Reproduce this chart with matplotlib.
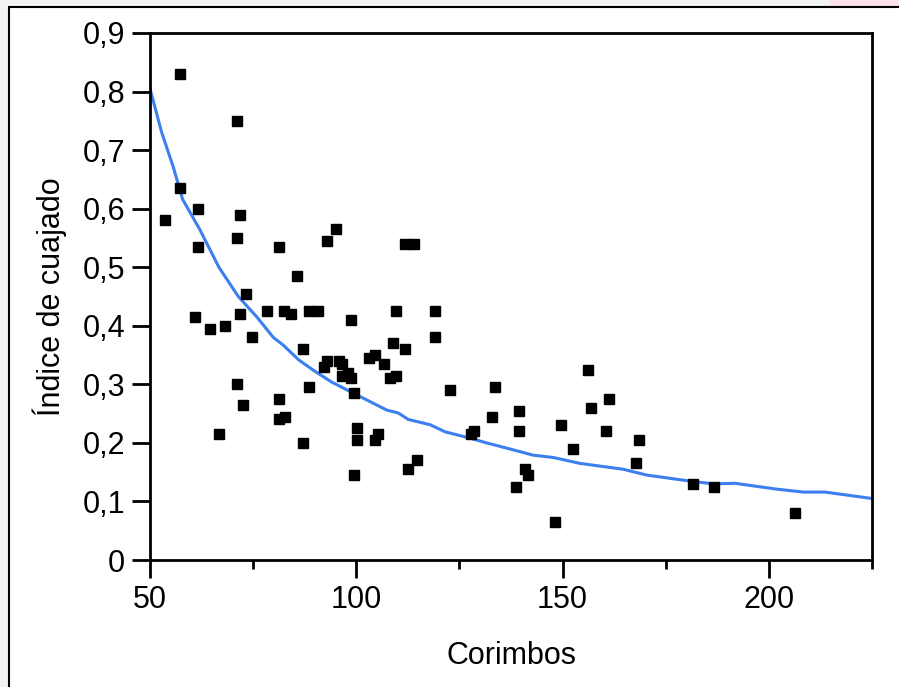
import matplotlib
matplotlib.use("Agg")
import matplotlib.pyplot as plt
from matplotlib.patches import Rectangle
from matplotlib.ticker import MultipleLocator, FuncFormatter

plt.rcParams['font.family'] = ['Liberation Sans', 'DejaVu Sans']

# observed points: number of corymbs vs fruit set index
corimbos = [57.3, 71.0, 57.3, 61.6, 53.6, 71.8, 71.0, 61.6, 95.1, 92.9, 81.3, 111.8, 114.0, 85.6, 73.2,
            60.9, 64.5, 68.2, 71.8, 74.7, 78.3, 82.6, 84.2, 88.5, 90.7, 98.7, 109.6, 119.1, 119.1, 87.0,
            108.9, 111.8, 103.0, 104.5, 106.7, 92.9, 92.1, 95.8, 96.5, 96.5, 98.0, 98.7, 108.2, 109.6, 99.5,
            88.5, 71.0, 81.3, 72.5, 122.7, 81.3, 82.7, 100.2, 100.2, 104.5, 105.3, 66.7, 87.0, 99.5, 112.5,
            114.7, 127.9, 128.5, 133.6, 132.9, 139.5, 139.5, 140.9, 141.6, 138.7, 148.2, 149.6, 152.5, 156.2,
            156.9, 161.3, 160.5, 168.5, 167.8, 181.6, 186.7, 206.4]
cuajado = [0.830, 0.750, 0.635, 0.600, 0.580, 0.590, 0.550, 0.535, 0.565, 0.545, 0.535, 0.540, 0.540, 0.485, 0.455,
           0.415, 0.395, 0.400, 0.420, 0.380, 0.425, 0.425, 0.420, 0.425, 0.425, 0.410, 0.425, 0.425, 0.380, 0.360,
           0.370, 0.360, 0.345, 0.350, 0.335, 0.340, 0.330, 0.340, 0.335, 0.315, 0.320, 0.310, 0.310, 0.315, 0.285,
           0.295, 0.300, 0.275, 0.265, 0.290, 0.240, 0.245, 0.225, 0.205, 0.205, 0.215, 0.215, 0.200, 0.145, 0.155,
           0.170, 0.215, 0.220, 0.295, 0.245, 0.255, 0.220, 0.155, 0.145, 0.125, 0.065, 0.230, 0.190, 0.325,
           0.260, 0.275, 0.220, 0.205, 0.165, 0.130, 0.125, 0.080]

# fitted curve
ajuste_x = [50.0, 52.8, 55.6, 57.9, 62.1, 66.7, 71.4, 75.9, 79.9, 82.3, 86.0, 89.6, 94.0, 100.1, 107.4,
            110.2, 112.6, 117.9, 121.5, 127.6, 131.6, 138.1, 142.9, 147.8, 154.2, 164.7, 170.4, 181.7,
            186.6, 191.8, 201.9, 208.4, 213.6, 225.0]
ajuste_y = [0.805, 0.731, 0.672, 0.616, 0.564, 0.500, 0.450, 0.415, 0.380, 0.367, 0.342, 0.324, 0.304, 0.282,
            0.256, 0.251, 0.240, 0.231, 0.219, 0.208, 0.200, 0.188, 0.179, 0.175, 0.165, 0.155, 0.145, 0.134,
            0.130, 0.131, 0.121, 0.116, 0.116, 0.105]

fig = plt.figure(figsize=(8.99, 6.87), dpi=100, facecolor='#f3f3f3')
W, H = 899.0, 687.0

# slide frame around the chart
fig.patches.append(Rectangle((9 / W, -0.05), 1.2, 1 - 7 / H + 0.05, transform=fig.transFigure,
                             facecolor='white', edgecolor='black', lw=1.5, zorder=-1))
fig.patches.append(Rectangle((830 / W, 1 - 6 / H), 0.2, 6 / H, transform=fig.transFigure,
                             facecolor='#f9e3e8', edgecolor='none', zorder=-2))

ax = fig.add_axes([150 / W, 1 - 560 / H, 722 / W, 527 / H])

ax.plot(ajuste_x, ajuste_y, color='#3b7ff0', lw=2.2, zorder=2)
ax.plot(corimbos, cuajado, 's', color='black', markersize=6.5, zorder=3)

ax.set_xlim(50, 225)
ax.set_ylim(0, 0.9)
ax.xaxis.set_major_locator(MultipleLocator(50))
ax.xaxis.set_minor_locator(MultipleLocator(25))
ax.yaxis.set_major_locator(MultipleLocator(0.1))
ax.yaxis.set_major_formatter(FuncFormatter(lambda v, p: ('%g' % round(v, 1)).replace('.', ',')))

for s in ax.spines.values():
    s.set_linewidth(2)
ax.tick_params(axis='x', which='major', length=13, width=2, pad=5, labelsize=22)
ax.tick_params(axis='x', which='minor', length=6.5, width=2)
ax.tick_params(axis='y', which='major', length=13, width=2, pad=5, labelsize=22)

ax.set_xlabel('Corimbos', fontsize=22, labelpad=19)
ax.set_ylabel('Índice de cuajado', fontsize=22, labelpad=11)

fig.savefig('out.png', dpi=100, facecolor=fig.get_facecolor())
